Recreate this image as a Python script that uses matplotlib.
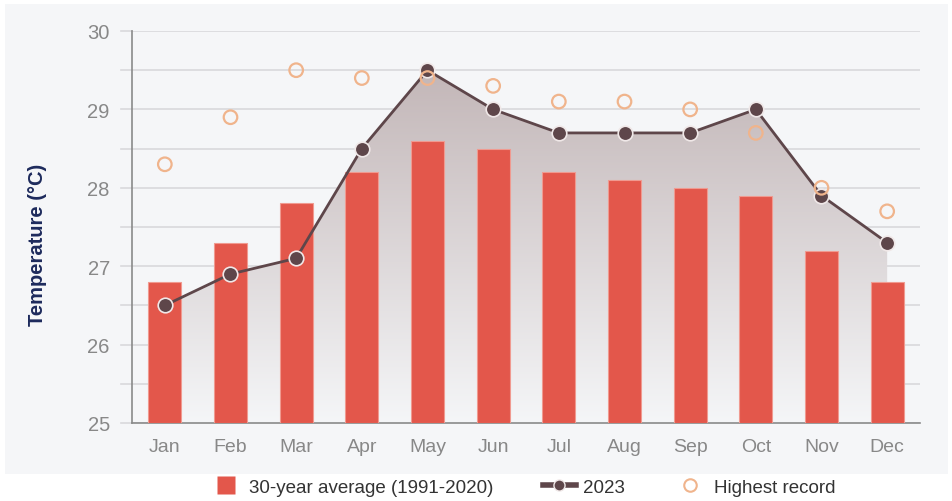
import matplotlib
matplotlib.use("Agg")
import matplotlib.pyplot as plt
import numpy as np
from matplotlib.patches import Polygon
from matplotlib.lines import Line2D
from matplotlib.colors import LinearSegmentedColormap

plt.rcParams['font.family'] = ['Liberation Sans', 'DejaVu Sans']

months = ["Jan", "Feb", "Mar", "Apr", "May", "Jun", "Jul", "Aug", "Sep", "Oct", "Nov", "Dec"]
avg_30yr = [26.8, 27.3, 27.8, 28.2, 28.6, 28.5, 28.2, 28.1, 28.0, 27.9, 27.2, 26.8]
temp_2023 = [26.5, 26.9, 27.1, 28.5, 29.5, 29.0, 28.7, 28.7, 28.7, 29.0, 27.9, 27.3]
record_high = [28.3, 28.9, 29.5, 29.4, 29.4, 29.3, 29.1, 29.1, 29.0, 28.7, 28.0, 27.7]
yticks = [25, 26, 27, 28, 29, 30]

W, H = 953, 502
fig = plt.figure(figsize=(W / 100, H / 100), dpi=100)
fig.patch.set_facecolor('white')
# panel background
bg = fig.add_axes([5 / W, 1 - 475 / H, 943 / W, 470 / H], zorder=-5)
bg.set_facecolor('#f5f6f8')
bg.set_xticks([]); bg.set_yticks([])
for s in bg.spines.values():
    s.set_visible(False)

ax = fig.add_axes([132 / W, 1 - 424 / H, (920 - 132) / W, (424 - 32) / H], zorder=1)
ax.set_facecolor('none')
x = np.arange(len(months))

# grid
for v in np.arange(25, 30.01, 0.5):
    ax.axhline(v, color='#d9d9dc', lw=1.2, zorder=1)
    ax.plot([-0.66, -0.5], [v, v], color='#d9d9dc', lw=1.2, clip_on=False, zorder=1)

# gradient fill under 2023 line
verts = [(x[0], 25)] + list(zip(x, temp_2023)) + [(x[-1], 25)]
poly = Polygon(verts, closed=True, facecolor='none', edgecolor='none')
ax.add_patch(poly)
grad = np.linspace(0, 1, 256).reshape(-1, 1)
cmap = LinearSegmentedColormap.from_list('g', [(0.96, 0.965, 0.972, 1.0), (0.76, 0.71, 0.715, 1.0)])
im = ax.imshow(grad, extent=[x[0], x[-1], 25, 29.6], origin='lower', aspect='auto', cmap=cmap,
               zorder=2, interpolation='bicubic')
im.set_clip_path(poly)
ax.set_xlim(-0.5, len(months) - 0.5)
ax.set_ylim(25, 30)

ax.bar(x, [a - 25 for a in avg_30yr], bottom=25, width=0.5, color='#e3574b', edgecolor='#f09a90',
       linewidth=0.8, zorder=3)
ax.plot(x, temp_2023, color='#5e464a', lw=2, zorder=4)
ax.scatter(x, temp_2023, s=110, color='#5e464a', edgecolor='#f0e8e8', linewidth=1.2, zorder=5)
ax.scatter(x, record_high, s=95, facecolor='none', edgecolor='#f0b48c', linewidth=1.6, zorder=6)

for s in ['top', 'right']:
    ax.spines[s].set_visible(False)
ax.spines['left'].set_color('#8a8a8a')
ax.spines['bottom'].set_color('#8a8a8a')
ax.spines['left'].set_linewidth(1.2)
ax.spines['bottom'].set_linewidth(1.2)
ax.set_yticks(yticks)
ax.set_yticklabels([str(t) for t in yticks], fontsize=14.5, color='#888888')
ax.set_xticks(x)
ax.set_xticklabels(months, fontsize=14, color='#888888')
ax.tick_params(axis='y', length=0, pad=16)
ax.tick_params(axis='x', length=0, pad=11)
ax.set_ylabel('Temperature (°C)', fontsize=14.5, fontweight='bold', color='#1d2a5c')
ax.yaxis.set_label_coords((47 - 132) / 788, (424 - 245) / 392)

# legend
handles = [
    Line2D([0], [0], color='none', marker='s', markersize=13, markerfacecolor='#e3574b',
           markeredgecolor='none'),
    Line2D([0], [0], color='#5e464a', lw=4, marker='o', markersize=8, markerfacecolor='#5e464a',
           markeredgecolor='#f0e8e8'),
    Line2D([0], [0], color='none', marker='o', markersize=9, markerfacecolor='none',
           markeredgecolor='#f0b48c', markeredgewidth=1.5),
]
labels = ['30-year average (1991-2020)', '2023', 'Highest record']
leg = fig.legend(handles, labels, loc='center', bbox_to_anchor=(0.548, 1 - 488 / H), ncol=3,
                 frameon=False, fontsize=13.5, handlelength=1.8, columnspacing=2.6, handletextpad=0.35)
for t in leg.get_texts():
    t.set_color('#333333')

fig.savefig('out.png', dpi=100, facecolor=fig.get_facecolor())
